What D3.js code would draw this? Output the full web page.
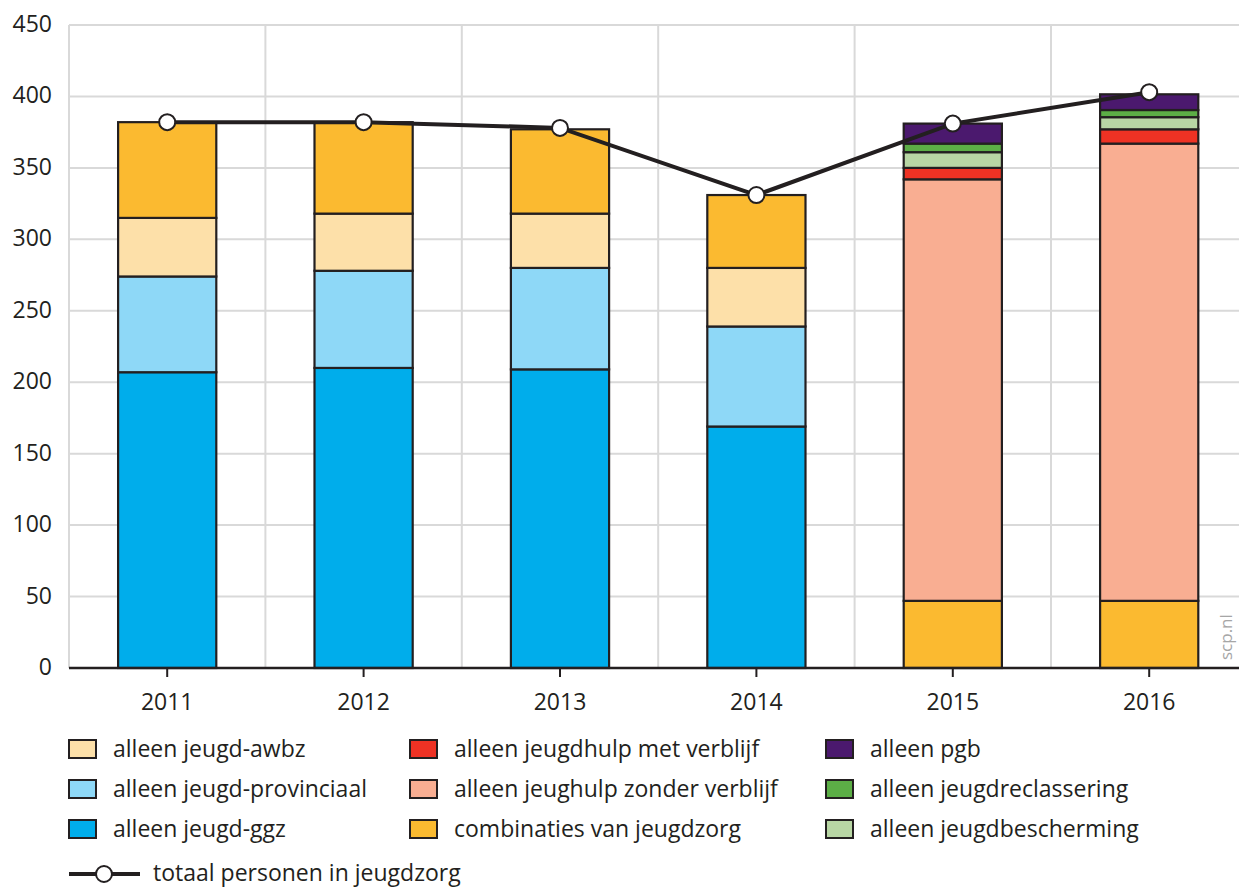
<!DOCTYPE html>
<html><head><meta charset="utf-8">
<script src="https://cdn.jsdelivr.net/npm/d3@7"></script>
<style>
body{margin:0;background:#fff;}
svg{display:block;font-family:"Open Sans",sans-serif;}
</style></head><body>
<svg id="c" width="1239" height="888"></svg>
<script>
const years = ["2011","2012","2013","2014","2015","2016"];
const seriesKeys = ["ggz","prov","awbz","comb","zonder","met","besch","recl","pgb"];
const seriesLabels = {
  awbz:"alleen jeugd-awbz", prov:"alleen jeugd-provinciaal", ggz:"alleen jeugd-ggz",
  met:"alleen jeugdhulp met verblijf", zonder:"alleen jeughulp zonder verblijf", comb:"combinaties van jeugdzorg",
  pgb:"alleen pgb", recl:"alleen jeugdreclassering", besch:"alleen jeugdbescherming"
};
const ggz    = [207, 210, 209, 169, 0, 0];
const prov   = [67, 68, 71, 70, 0, 0];
const awbz   = [41, 40, 38, 41, 0, 0];
const comb   = [67, 64, 59, 51, 47, 47];
const zonder = [0, 0, 0, 0, 295, 320];
const met    = [0, 0, 0, 0, 8, 10];
const besch  = [0, 0, 0, 0, 11, 8.5];
const recl   = [0, 0, 0, 0, 6, 5];
const pgb    = [0, 0, 0, 0, 14, 11];
const totaal = [382, 382, 378, 331, 381, 403];
const yTicks = [0,50,100,150,200,250,300,350,400,450];
const legendOrder = [["awbz","prov","ggz"],["met","zonder","comb"],["pgb","recl","besch"]];
const lineLabel = "totaal personen in jeugdzorg";

const colors = {ggz:"#00adeb", prov:"#8ed8f7", awbz:"#fde0a9", comb:"#fbba30",
  zonder:"#f9ae92", met:"#ee3224", besch:"#b8d6a4", recl:"#5cae46", pgb:"#4b196e"};
const seriesData = {ggz,prov,awbz,comb,zonder,met,besch,recl,pgb};
const rows = years.map((y,i)=>{const r={year:y}; seriesKeys.forEach(k=>r[k]=seriesData[k][i]); return r;});

const svg = d3.select("#c");
const pLeft=69, pTop=25, pBottom=668, bandW=196.4;
const x = d3.scaleBand().domain(years).range([pLeft, pLeft+bandW*years.length]).paddingInner(0.5).paddingOuter(0.25);
const y = d3.scaleLinear().domain([0,450]).range([pBottom, pTop]);
const txt = "#231f20";
const fs = 23;

// grid
const g = svg.append("g");
g.selectAll("line.h").data(yTicks.slice(1)).join("line")
  .attr("x1",pLeft).attr("x2",1239).attr("y1",d=>y(d)).attr("y2",d=>y(d))
  .attr("stroke","#d9d9d9").attr("stroke-width",2);
const bounds = d3.range(years.length+1).map(i=>pLeft+bandW*i);
g.selectAll("line.v").data(bounds).join("line")
  .attr("x1",d=>d).attr("x2",d=>d).attr("y1",pTop).attr("y2",pBottom)
  .attr("stroke","#d9d9d9").attr("stroke-width",2);

// y labels
svg.append("g").selectAll("text").data(yTicks).join("text")
  .attr("x",52).attr("y",d=>y(d)+7).attr("text-anchor","end")
  .attr("font-size",fs).attr("fill",txt).text(d=>d);

// bars
const stacked = d3.stack().keys(seriesKeys)(rows);
const bw = x.bandwidth();
svg.append("g").selectAll("g").data(stacked).join("g")
  .attr("fill",d=>colors[d.key])
  .selectAll("rect").data(d=>d.filter(s=>s[1]-s[0]>0)).join("rect")
  .attr("x",d=>x(d.data.year)).attr("width",bw)
  .attr("y",d=>y(d[1])).attr("height",d=>y(d[0])-y(d[1]))
  .attr("stroke","#231f20").attr("stroke-width",2.2);

// x axis
svg.append("line").attr("x1",pLeft).attr("x2",1239).attr("y1",pBottom).attr("y2",pBottom)
  .attr("stroke",txt).attr("stroke-width",2.5);
svg.append("g").selectAll("line").data(years).join("line")
  .attr("x1",d=>x(d)+bw/2).attr("x2",d=>x(d)+bw/2).attr("y1",pBottom).attr("y2",pBottom+9)
  .attr("stroke",txt).attr("stroke-width",2);
svg.append("g").selectAll("text").data(years).join("text")
  .attr("x",d=>x(d)+bw/2).attr("y",710).attr("text-anchor","middle")
  .attr("font-size",fs).attr("fill",txt).text(d=>d);

// line
const line = d3.line().x((d,i)=>x(years[i])+bw/2).y(d=>y(d));
svg.append("path").datum(totaal).attr("d",line).attr("fill","none")
  .attr("stroke","#231f20").attr("stroke-width",4);
svg.append("g").selectAll("circle").data(totaal).join("circle")
  .attr("cx",(d,i)=>x(years[i])+bw/2).attr("cy",d=>y(d)).attr("r",8)
  .attr("fill","#fff").attr("stroke","#231f20").attr("stroke-width",2);

// watermark
svg.append("text").attr("transform","translate(1232,660) rotate(-90)")
  .attr("font-size",17).attr("fill","#a6a6a6").text("scp.nl");

// legend
const colX = [69, 410, 826], rowY = [749, 789, 829];
legendOrder.forEach((col,ci)=>col.forEach((k,ri)=>{
  svg.append("rect").attr("x",colX[ci]).attr("y",rowY[ri]-9).attr("width",27).attr("height",18)
    .attr("fill",colors[k]).attr("stroke","#231f20").attr("stroke-width",2);
  svg.append("text").attr("x",colX[ci]+44).attr("y",rowY[ri]+8).attr("font-size",fs)
    .attr("fill",txt).text(seriesLabels[k]);
}));
svg.append("line").attr("x1",69).attr("x2",140).attr("y1",874).attr("y2",874)
  .attr("stroke","#231f20").attr("stroke-width",4);
svg.append("circle").attr("cx",104).attr("cy",874).attr("r",8).attr("fill","#fff")
  .attr("stroke","#231f20").attr("stroke-width",2);
svg.append("text").attr("x",153).attr("y",881).attr("font-size",fs).attr("fill",txt).text(lineLabel);
</script></body></html>
